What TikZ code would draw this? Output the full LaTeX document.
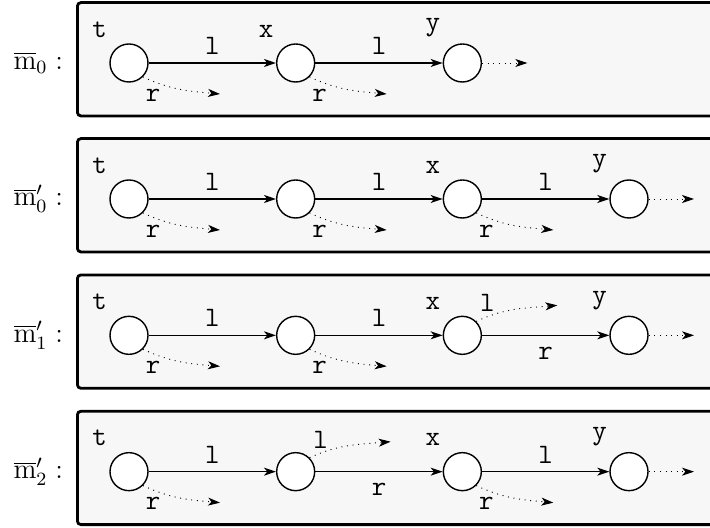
\documentclass[tikz,border=0pt]{standalone}
\usetikzlibrary{arrows.meta}

\begin{document}
\begin{tikzpicture}[]
      \useasboundingbox (0,0) rectangle (10.65,-7.92);

      \coordinate (row0) at (1.935,-0.945);
      \coordinate (row1) at (1.935,-2.985);
      \coordinate (row2) at (1.935,-5.03);
      \coordinate (row3) at (1.935,-7.075);

      \tikzstyle{frame} = [
        rectangle,
        draw=black,
        very thick,
        rounded corners=1.5pt,
        fill=black!3,
        anchor=west,
        minimum width=102mm,
        minimum height=17mm,
      ]
      \tikzstyle{loc} = [
        circle,
        draw=black,
        semithick,
        fill=white,
        minimum size=5.7mm,
        inner sep=0pt
      ]
      \tikzstyle{varlabel} = [font=\large\ttfamily, yshift=1.5pt]
      \tikzstyle{edgelabel} = [font=\large\ttfamily]
      \tikzstyle{rowlabel} = [anchor=east, font=\large]

      \tikzstyle{arrow} = [semithick,-{Stealth[length=1.8mm,width=1.2mm,inset=0.5mm]}]
      \tikzstyle{stub} = [thin,-{Stealth[length=1.8mm,width=1.2mm,inset=0.5mm]},dotted]

      % frames
      \node[frame] (frame0) at ([xshift=-7.95mm,yshift=0.56mm] row0) {};
      \node[frame] (frame1) at ([xshift=-7.95mm,yshift=0.56mm] row1) {};
      \node[frame] (frame2) at ([xshift=-7.95mm,yshift=0.56mm] row2) {};
      \node[frame] (frame3) at ([xshift=-7.95mm,yshift=0.56mm] row3) {};

      % row labels
      \node[rowlabel] (name0) at ([xshift=-8.65mm] row0) {$\overline{\mathrm{m}}_0 :$};
      \node[rowlabel] (name1) at ([xshift=-8.65mm] row1) {$\overline{\mathrm{m}}'_0 :$};
      \node[rowlabel] (name2) at ([xshift=-8.65mm] row2) {$\overline{\mathrm{m}}'_1 :$};
      \node[rowlabel] (name3) at ([xshift=-8.65mm] row3) {$\overline{\mathrm{m}}'_2 :$};

      % row 0
      \node[loc,label={[varlabel]135:t}] (t0) at (row0) {};
      \node[loc,label={[varlabel]135:x}] (x0) at ([xshift=25mm] row0) {};
      \node[loc,label={[varlabel]135:y}] (y0) at ([xshift=50mm] row0) {};
      \draw[arrow] (t0) -- node[edgelabel,above] (t0l) {l} (x0);
      \draw[arrow] (x0) -- node[edgelabel,above] (x0l) {l} (y0);
      \coordinate (t0rEnd) at ([shift={(13.65mm,-4.65mm)}] t0.center);
      \coordinate (x0rEnd) at ([shift={(13.65mm,-4.65mm)}] x0.center);
      \coordinate (y0End) at ([xshift=9.75mm] y0.center);
      \draw[stub] (t0.south east) to[out=-25,in=175] (t0rEnd);
      \draw[stub] (x0.south east) to[out=-25,in=175] (x0rEnd);
      \draw[stub] (y0.east) -- (y0End);
      \node[edgelabel] (t0r) at ([shift={(3.6mm,-4.8mm)}] t0.center) {r};
      \node[edgelabel] (x0r) at ([shift={(3.6mm,-4.8mm)}] x0.center) {r};

      % row 1
      \node[loc,label={[varlabel]135:t}] (t1) at (row1) {};
      \node[loc] (u1) at ([xshift=25mm] row1) {};
      \node[loc,label={[varlabel]135:x}] (x1) at ([xshift=50mm] row1) {};
      \node[loc,label={[varlabel]135:y}] (y1) at ([xshift=75mm] row1) {};
      \draw[arrow] (t1) -- node[edgelabel,above] (t1l) {l} (u1);
      \draw[arrow] (u1) -- node[edgelabel,above] (u1l) {l} (x1);
      \draw[arrow] (x1) -- node[edgelabel,above] (x1l) {l} (y1);
      \coordinate (t1rEnd) at ([shift={(13.65mm,-4.65mm)}] t1.center);
      \coordinate (u1rEnd) at ([shift={(13.65mm,-4.65mm)}] u1.center);
      \coordinate (x1rEnd) at ([shift={(13.65mm,-4.65mm)}] x1.center);
      \coordinate (y1End) at ([xshift=9.75mm] y1.center);
      \draw[stub] (t1.south east) to[out=-25,in=175] (t1rEnd);
      \draw[stub] (u1.south east) to[out=-25,in=175] (u1rEnd);
      \draw[stub] (x1.south east) to[out=-25,in=175] (x1rEnd);
      \draw[stub] (y1.east) -- (y1End);
      \node[edgelabel] (t1r) at ([shift={(3.6mm,-4.8mm)}] t1.center) {r};
      \node[edgelabel] (u1r) at ([shift={(3.6mm,-4.8mm)}] u1.center) {r};
      \node[edgelabel] (x1r) at ([shift={(3.6mm,-4.8mm)}] x1.center) {r};

      % row 2
      \node[loc,label={[varlabel]135:t}] (t2) at (row2) {};
      \node[loc] (u2) at ([xshift=25mm] row2) {};
      \node[loc,label={[varlabel]135:x}] (x2) at ([xshift=50mm] row2) {};
      \node[loc,label={[varlabel]135:y}] (y2) at ([xshift=75mm] row2) {};
      \draw[arrow] (t2) -- node[edgelabel,above] (t2l) {l} (u2);
      \draw[arrow] (u2) -- node[edgelabel,above] (u2l) {l} (x2);
      \draw[arrow] (x2) -- node[edgelabel,below=1.5pt] (x2r) {r} (y2);
      \coordinate (t2rEnd) at ([shift={(13.65mm,-4.65mm)}] t2.center);
      \coordinate (u2rEnd) at ([shift={(13.65mm,-4.65mm)}] u2.center);
      \coordinate (x2lEnd) at ([shift={(14.25mm,4.5mm)}] x2.center);
      \coordinate (y2End) at ([xshift=9.75mm] y2.center);
      \draw[stub] (t2.south east) to[out=-25,in=175] (t2rEnd);
      \draw[stub] (u2.south east) to[out=-25,in=175] (u2rEnd);
      \draw[stub] (x2.north east) to[out=25,in=185] (x2lEnd);
      \draw[stub] (y2.east) -- (y2End);
      \node[edgelabel] (t2r) at ([shift={(3.6mm,-4.8mm)}] t2.center) {r};
      \node[edgelabel] (u2r) at ([shift={(3.6mm,-4.8mm)}] u2.center) {r};
      \node[edgelabel] (x2l) at ([shift={(3.75mm,4.8mm)}] x2.center) {l};

      % row 3
      \node[loc,label={[varlabel]135:t}] (t3) at (row3) {};
      \node[loc] (u3) at ([xshift=25mm] row3) {};
      \node[loc,label={[varlabel]135:x}] (x3) at ([xshift=50mm] row3) {};
      \node[loc,label={[varlabel]135:y}] (y3) at ([xshift=75mm] row3) {};
      \draw[arrow] (t3) -- node[edgelabel,above] (t3l) {l} (u3);
      \draw[arrow] (u3) -- node[edgelabel,below=1.5pt] (u3r) {r} (x3);
      \draw[arrow] (x3) -- node[edgelabel,above] (x3l) {l} (y3);
      \coordinate (t3rEnd) at ([shift={(13.65mm,-4.65mm)}] t3.center);
      \coordinate (u3lEnd) at ([shift={(14.25mm,4.5mm)}] u3.center);
      \coordinate (x3rEnd) at ([shift={(13.65mm,-4.65mm)}] x3.center);
      \coordinate (y3End) at ([xshift=9.75mm] y3.center);
      \draw[stub] (t3.south east) to[out=-25,in=175] (t3rEnd);
      \draw[stub] (u3.north east) to[out=25,in=185] (u3lEnd);
      \draw[stub] (x3.south east) to[out=-25,in=175] (x3rEnd);
      \draw[stub] (y3.east) -- (y3End);
      \node[edgelabel] (t3r) at ([shift={(3.6mm,-4.8mm)}] t3.center) {r};
      \node[edgelabel] (u3l) at ([shift={(3.75mm,4.8mm)}] u3.center) {l};
      \node[edgelabel] (x3r) at ([shift={(3.6mm,-4.8mm)}] x3.center) {r};
    \end{tikzpicture}
\end{document}
